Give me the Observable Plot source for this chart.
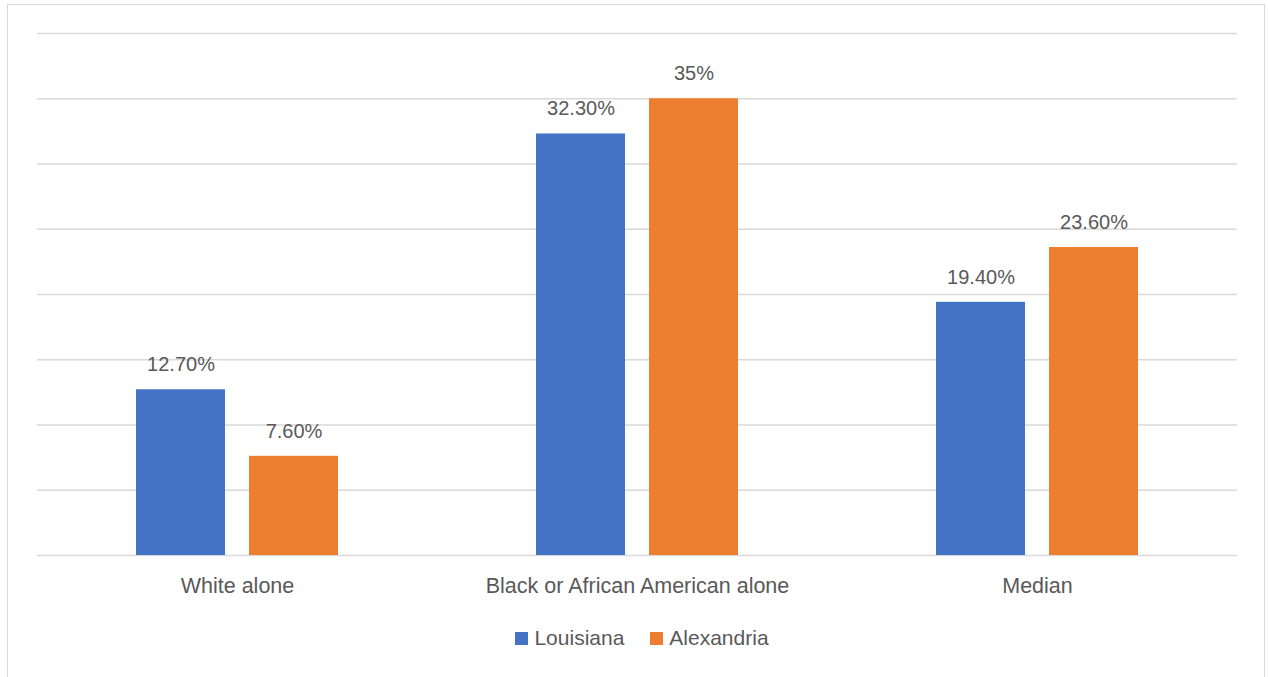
<!DOCTYPE html>
<html>
<head>
<meta charset="utf-8">
<script src="https://cdn.jsdelivr.net/npm/d3@7"></script>
<script src="https://cdn.jsdelivr.net/npm/@observablehq/plot@0.6"></script>
<style>
  html, body { margin: 0; padding: 0; background: #fff; overflow: hidden; }
  body { width: 1268px; height: 677px; position: relative; font-family: "Liberation Sans", Arial, sans-serif; }
  #frame { position: absolute; left: 7px; top: 4px; width: 1258px; height: 700px; border: 1.5px solid #d9d9d9; box-sizing: border-box; }
  #chart { position: absolute; left: 0; top: 0; }
  #legend { position: absolute; left: 8px; top: 626px; width: 1268px; display: flex; justify-content: center; align-items: center; gap: 26px; font-size: 21px; color: #595959; }
  .item { display: flex; align-items: center; gap: 6px; }
  .sw { width: 13px; height: 13px; display: inline-block; }
</style>
</head>
<body>
<div id="frame"></div>
<div id="chart"></div>
<div id="legend"></div>
<script>
const categories = ["White alone", "Black or African American alone", "Median"];
const series = ["Louisiana", "Alexandria"];
const louisiana = [12.7, 32.3, 19.4];
const alexandria = [7.6, 35, 23.6];
const louisianaLabels = ["12.70%", "32.30%", "19.40%"];
const alexandriaLabels = ["7.60%", "35%", "23.60%"];
const colors = ["#4472C4", "#ED7D31"];
const gridTicks = [0, 5, 10, 15, 20, 25, 30, 35, 40];

const data = [];
categories.forEach((c, i) => {
  data.push({cat: c, series: series[0], value: louisiana[i], label: louisianaLabels[i]});
  data.push({cat: c, series: series[1], value: alexandria[i], label: alexandriaLabels[i]});
});

const chart = Plot.plot({
  width: 1268,
  height: 610,
  marginLeft: 36,
  marginRight: 30,
  marginTop: 33,
  marginBottom: 55,
  style: {fontFamily: "Liberation Sans, Arial, sans-serif", background: "transparent"},
  fx: {domain: categories, padding: 0, label: null},
  x: {domain: series, paddingInner: 0.21, paddingOuter: 0.86, axis: null},
  y: {domain: [0, 40], axis: null},
  color: {domain: series, range: colors},
  marks: [
    Plot.ruleY(gridTicks, {stroke: "#d9d9d9", strokeWidth: 1.5}),
    Plot.barY(data, {fx: "cat", x: "series", y: "value", fill: "series"}),
    Plot.text(data, {fx: "cat", x: "series", y: "value", text: "label", dy: -25, fontSize: 20, fill: "#595959"}),
    Plot.axisFx({anchor: "bottom", tickSize: 0, tickPadding: 22, fontSize: 21.5, color: "#595959", label: null})
  ]
});
document.getElementById("chart").appendChild(chart);

const legend = document.getElementById("legend");
series.forEach((s, i) => {
  const item = document.createElement("div");
  item.className = "item";
  const sw = document.createElement("span");
  sw.className = "sw";
  sw.style.background = colors[i];
  const t = document.createElement("span");
  t.textContent = s;
  item.appendChild(sw);
  item.appendChild(t);
  legend.appendChild(item);
});
</script>
</body>
</html>
